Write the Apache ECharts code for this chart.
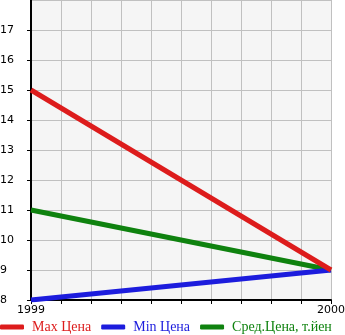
<!DOCTYPE html>
<html>
<head>
<meta charset="utf-8">
<script src="https://cdn.jsdelivr.net/npm/echarts@6/dist/echarts.min.js"></script>
<style>
  html, body { margin: 0; padding: 0; background: #ffffff; }
  #chart { width: 345px; height: 335px; }
</style>
</head>
<body>
<div id="chart"></div>
<script>
// Price history by year
const years = [1999, 2000];
const maxPrice = [15, 9];
const minPrice = [8, 9];
const avgPrice = [11, 9];
const seriesNames = ['Max Цена', 'Min Цена', 'Сред.Цена, т.йен'];
const seriesColors = ['#dd1c1c', '#1c1cdd', '#0f820f'];

const pairs = arr => years.map((y, i) => [y, arr[i]]);
const values = [maxPrice, minPrice, avgPrice];

const chart = echarts.init(document.getElementById('chart'));
chart.setOption({
  animation: false,
  backgroundColor: '#ffffff',
  grid: {
    left: 31, right: 14, top: 0, bottom: 35,
    outerBoundsMode: 'none', containLabel: false,
    show: true, backgroundColor: '#f5f5f5', borderWidth: 0
  },
  xAxis: {
    type: 'value',
    min: 1999, max: 2000, interval: 0.1,
    axisLine: { show: true, lineStyle: { color: '#000', width: 2 } },
    axisTick: { show: true, length: 4, lineStyle: { color: '#000', width: 1 } },
    splitLine: { show: true, lineStyle: { color: '#c0c0c0', width: 1 } },
    axisLabel: {
      color: '#000', fontFamily: 'DejaVu Sans', fontSize: 11, margin: 5,
      formatter: v => Math.abs(v - Math.round(v)) < 1e-6 ? String(Math.round(v)) : ''
    }
  },
  yAxis: {
    type: 'value',
    min: 8, max: 18, interval: 1,
    axisLine: { show: true, lineStyle: { color: '#000', width: 2 } },
    axisTick: { show: true, length: 4, lineStyle: { color: '#000', width: 1 } },
    splitLine: { show: true, lineStyle: { color: '#c0c0c0', width: 1 } },
    axisLabel: {
      color: '#000', fontFamily: 'DejaVu Sans', fontSize: 11,
      align: 'left', margin: 31, showMaxLabel: false,
      padding: [0, 0, 7, 0]
    }
  },
  legend: {
    left: 0, top: 319, padding: 0,
    itemWidth: 24, itemHeight: 5, itemGap: 10,
    icon: 'roundRect',
    textStyle: { fontFamily: 'Liberation Serif', fontSize: 14, lineHeight: 16, padding: [0, 0, 0, 3] },
    data: seriesNames.map((n, i) => ({ name: n, textStyle: { color: seriesColors[i] } }))
  },
  series: values.map((arr, i) => ({
    name: seriesNames[i],
    type: 'line',
    data: pairs(arr),
    symbol: 'none',
    lineStyle: { color: seriesColors[i], width: 5 },
    itemStyle: { color: seriesColors[i] },
    z: 3 - i
  }))
});
</script>
</body>
</html>
